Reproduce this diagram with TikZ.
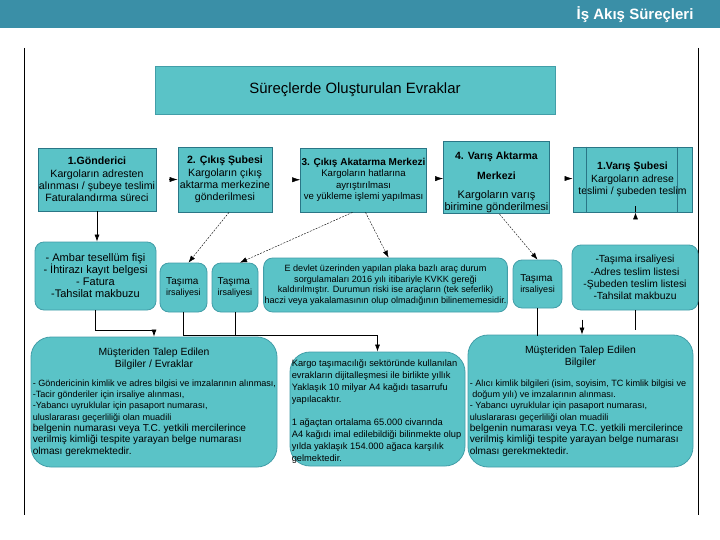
\documentclass[tikz,border=0pt]{standalone}
\usepackage{fontspec}
\setmainfont{Liberation Sans}
\usetikzlibrary{arrows.meta,calc}
\definecolor{barblue}{RGB}{58,143,167}
\definecolor{tealfill}{RGB}{90,195,199}
\definecolor{tealedge}{RGB}{42,118,134}
\definecolor{softedge}{RGB}{66,158,168}
\newcommand{\fsz}[2]{\fontsize{#1}{#2}\selectfont}

\begin{document}
\begin{tikzpicture}[x=1pt, y=-1pt,
  box/.style={draw=tealedge, fill=tealfill, line width=0.8pt, inner sep=1pt, align=center, font=\fsz{10.6}{12.3}},
  rbox/.style={box, draw=softedge, rounded corners=9pt},
  bigbox/.style={box, draw=softedge, rounded corners=20pt},
  flow/.style={-{Latex[length=8pt,width=5pt]}, line width=0.4pt},
  arrow/.style={-{Latex[length=7pt,width=5pt]}, line width=0.7pt},
  dasharrow/.style={-{Latex[length=7pt,width=5pt]}, line width=0.4pt, dash pattern=on 2pt off 1.2pt},
  link/.style={line width=0.7pt},
  title/.style={align=center, inner sep=0pt, font=\fsz{10.4}{12}},
  body/.style={align=left, inner sep=0pt, font=\fsz{9.1}{11.3}},
]
\fill[white] (0,0) rectangle (720,540);
\useasboundingbox (0,0) rectangle (720,540);

% header
\fill[barblue] (0,0) rectangle (720,28);
\node[anchor=east, text=white, font=\bfseries\fsz{15}{17}] (head) at (697,15) {İş Akış Süreçleri};
\draw[line width=0.6pt] (24,48) -- (24,515) (698,48) -- (698,515);

\node[box, draw=softedge, minimum width=400, minimum height=48, font=\fsz{14.9}{17}] (evrak) at (355,90) {Süreçlerde Oluşturulan Evraklar};

% process steps
\node[box, minimum width=118, minimum height=63] (gon) at (97,179.5) {\textbf{1.Gönderici}\\Kargoların adresten\\alınması / şubeye teslimi\\Faturalandırma süreci};
\node[box, minimum width=94, minimum height=65] (cikis) at (225,179.5) {\textbf{2. Çıkış Şubesi}\\Kargoların çıkış\\aktarma merkezine\\gönderilmesi};
\node[box, minimum width=123, minimum height=64, font=\fsz{10}{11.5}] (cakt) at (363.5,180) {\textbf{3. Çıkış Akatarma Merkezi}\\\fsz{9.6}{10.2}Kargoların hatlarına\\\fsz{9.6}{10.2}ayrıştırılması\\\fsz{9.6}{10.2}ve yükleme işlemi yapılması};
\node[box, minimum width=103, minimum height=69, font=\fsz{10.5}{12}] (vakt) at (496.5,177.5) {\rule{0pt}{17pt}\textbf{4. Varış Aktarma}\\[8pt]\textbf{Merkezi}\\[7pt]\fsz{11}{12}Kargoların varış\\\fsz{11}{12}birimine gönderilmesi};
\node[box, minimum width=119, minimum height=65, font=\fsz{10.4}{12.3}] (varis) at (632.5,179.5) {\textbf{1.Varış Şubesi}\\Kargoların adrese\\teslimi / şubeden teslim};
\draw[tealedge, line width=0.8pt] ($(varis.north west)+(14,0)$) -- ($(varis.south west)+(14,0)$)
  ($(varis.north east)+(-15,0)$) -- ($(varis.south east)+(-15,0)$);

\draw[flow, shorten <=13pt] (gon) -- (cikis);
\draw[flow, shorten <=20pt] (cikis) -- (cakt);
\draw[flow, shorten <=10pt] (cakt) -- (vakt);
\draw[flow, shorten <=15pt] (vakt) -- (varis);

% documents
\node[rbox, minimum width=121, minimum height=68, font=\fsz{11}{12}] (ambar) at (95.5,276) {- Ambar tesellüm fişi\\- İhtirazı kayıt belgesi\\- Fatura\\-Tahsilat makbuzu};
\node[rbox, minimum width=47, minimum height=49, align=left, font=\fsz{10}{11}] (irs1) at (183.5,287.5) {Taşıma\\\fsz{9}{11}irsaliyesi};
\node[rbox, minimum width=46, minimum height=49, align=left, font=\fsz{10}{11}] (irs2) at (235,287.5) {Taşıma\\\fsz{9}{11}irsaliyesi};
\node[rbox, minimum width=243, minimum height=54, font=\fsz{9.1}{10.5}] (edev) at (385.5,285) {E devlet üzerinden yapılan plaka bazlı araç durum\\sorgulamaları 2016 yılı itibariyle KVKK gereği\\kaldırılmıştır. Durumun riski ise araçların (tek seferlik)\\haczi veya yakalamasının olup olmadığının bilinememesidir.};
\node[rbox, minimum width=49, minimum height=48, align=left, font=\fsz{10}{11}] (irs3) at (537.5,284) {Taşıma\\\fsz{9}{11}irsaliyesi};
\node[rbox, minimum width=126, minimum height=65, font=\fsz{10.3}{12.3}] (liste) at (635,277.5) {-Taşıma irsaliyesi\\-Adres teslim listesi\\-Şubeden teslim listesi\\-Tahsilat makbuzu};

\draw[arrow] (gon.south) -- (gon.south |- ambar.north);
\draw[dasharrow] ($(cikis.south)+(4,0)$) -- ($(irs1.north)+(5,0)$);
\draw[dasharrow] ($(cakt.south)+(-11,0)$) -- ($(irs2.north)+(5,0)$);
\draw[dasharrow] ($(cakt.south)+(2,0)$) -- ($(edev.north)+(3,0)$);
\draw[dasharrow] ($(vakt.south)+(3,0)$) -- (irs3.north);
\draw[arrow] ($(varis.south)+(3,0)$) -- ($(varis.south)+(3,0)$ |- liste.north);

% customer info
\node[bigbox, minimum width=246, minimum height=130] (talep1) at (154,402) {};
\node[title] (talep1t) at ($(talep1.north)+(0,22)$) {Müşteriden Talep Edilen\\Bilgiler / Evraklar};
\node[body, anchor=north west] (talep1b) at ($(talep1.north west)+(2,43)$) {- Göndericinin kimlik ve adres bilgisi ve  imzalarının alınması,\\-Tacir gönderiler için irsaliye alınması,\\-Yabancı uyruklular için pasaport numarası,\\uluslararası geçerliliği olan muadili\\\fsz{10.1}{11.4}belgenin numarası veya T.C. yetkili mercilerince\\\fsz{10.1}{11.4}verilmiş kimliği tespite yarayan belge numarası\\\fsz{10.1}{11.4}olması gerekmektedir.};

\node[bigbox, minimum width=175, minimum height=114] (kagit) at (377.5,409) {};
\node[body, anchor=north west, font=\fsz{9.3}{11.8}] (kagitb) at ($(kagit.north west)+(2,8)$) {Kargo taşımacılığı sektöründe kullanılan\\evrakların dijitalleşmesi ile birlikte yıllık\\Yaklaşık 10 milyar A4 kağıdı tasarrufu\\yapılacaktır.\\[11.8pt]1 ağaçtan ortalama 65.000 civarında\\A4 kağıdı imal edilebildiği bilinmekte olup\\yılda yaklaşık 154.000 ağaca karşılık\\gelmektedir.};

\node[bigbox, minimum width=225, minimum height=132] (talep2) at (580.5,401) {};
\node[title] (talep2t) at ($(talep2.north)+(0,22)$) {Müşteriden Talep Edilen\\Bilgiler};
\node[body, anchor=north west] (talep2b) at ($(talep2.north west)+(2,45)$) {- Alıcı kimlik bilgileri (isim, soyisim, TC kimlik bilgisi ve\\\hspace*{2.5pt}doğum yılı) ve imzalarının alınması.\\- Yabancı uyruklular için pasaport numarası,\\uluslararası geçerliliği olan muadili\\\fsz{10.1}{11.4}belgenin numarası veya T.C. yetkili mercilerince\\\fsz{10.1}{11.4}verilmiş kimliği tespite yarayan belge numarası\\\fsz{10.1}{11.4}olması gerekmektedir.};

\draw[arrow] (ambar.south) -- ++(0,20) -| (talep1.north);
\draw[arrow] (irs1.south) -- ++(0,23) -| (kagit.north);
\draw[link] (irs2.south) -- ++(0,23);
\draw[link] (irs3.south) -- ++(0,28);
\draw[link] (liste.south) -- ++(0,20);
\coordinate (talep2in) at ($(talep2.north)+(1.5,-15)$);
\draw[arrow] (talep2in) -- (talep2in |- talep2.north);
\end{tikzpicture}
\end{document}
